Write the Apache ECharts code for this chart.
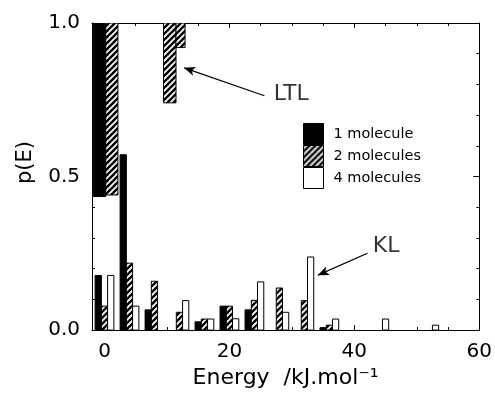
<!DOCTYPE html>
<html>
<head>
<meta charset="utf-8">
<script src="https://cdn.jsdelivr.net/npm/echarts@6/dist/echarts.min.js"></script>
<style>html,body{margin:0;padding:0;background:#fff}#c{width:495px;height:394px}</style>
</head>
<body>
<div id="c"></div>
<script>
// ---- data ----
const energies = [0, 4, 8, 12, 16, 20, 24, 28, 32, 36, 40, 44, 48, 52];
const oneMolecule   = [0.178, 0.571, 0.066, 0, 0.027, 0.078, 0.066, 0, 0, 0.008, 0, 0, 0, 0];
const twoMolecules  = [0.078, 0.218, 0.159, 0.058, 0.036, 0.078, 0.097, 0.137, 0.096, 0.016, 0, 0, 0, 0];
const fourMolecules = [0.178, 0.078, 0, 0.096, 0.036, 0.037, 0.157, 0.058, 0.238, 0.036, 0, 0.036, 0, 0.016];
// off-scale blocks: [E from, E to, p low, p high]
const oneTop = [[-1.8, 0.2, 0.435, 1.0]];
const twoTop = [[0.2, 2.15, 0.44, 1.0], [9.45, 11.45, 0.74, 1.0], [11.45, 12.9, 0.92, 1.0]];
const seriesNames = ['1 molecule', '2 molecules', '4 molecules'];
const xMajor = [0, 20, 40, 60];
const xMinor = [5, 10, 15, 25, 30, 35, 45, 50, 55];
const annotations = [[29.9, 0.768, 'LTL'], [45.1, 0.274, 'KL']];
const arrows = [[[25.6, 0.763], [12.75, 0.854]], [[42.1, 0.25], [34.16, 0.179]]];

// hatch pattern
const pc = document.createElement('canvas');
const S = 6;
pc.width = S; pc.height = S;
const g = pc.getContext('2d');
g.fillStyle = '#fff'; g.fillRect(0, 0, S, S);
g.strokeStyle = '#000'; g.lineWidth = 2.4;
[[0, S, S, 0], [-S, S, S, -S], [0, 2 * S, 2 * S, 0]].forEach(l => { g.beginPath(); g.moveTo(l[0], l[1]); g.lineTo(l[2], l[3]); g.stroke(); });
const hatch = { image: pc, repeat: 'repeat' };

const FONT = 'DejaVu Sans';
const colors = ['#000', hatch, '#fff'];
const offsets = [-1, 0, 1];

function barRender(off, fill) {
  return function (params, api) {
    const e = api.value(0), v = api.value(1);
    if (!v) return null;
    const a = api.coord([e + off - 0.5, v]);
    const b = api.coord([e + off + 0.5, 0]);
    return { type: 'rect', shape: { x: a[0], y: a[1], width: b[0] - a[0], height: b[1] - a[1] },
      style: { fill: fill, stroke: '#000', lineWidth: 1 } };
  };
}
function blockRender(fill) {
  return function (params, api) {
    const a = api.coord([api.value(0), api.value(3)]);
    const b = api.coord([api.value(1), api.value(2)]);
    return { type: 'rect', shape: { x: a[0], y: a[1], width: b[0] - a[0], height: b[1] - a[1] },
      style: { fill: fill, stroke: '#000', lineWidth: 1 } };
  };
}

const values = [oneMolecule, twoMolecules, fourMolecules];
const series = values.map((arr, k) => ({
  type: 'custom', name: seriesNames[k], clip: true, silent: true,
  itemStyle: { color: colors[k], borderColor: '#000', borderWidth: 1 },
  renderItem: barRender(offsets[k], colors[k]),
  encode: { x: 0, y: 1 },
  data: energies.map((e, i) => [e, arr[i]])
}));
series.push({
  type: 'custom', name: seriesNames[0], clip: true, silent: true,
  itemStyle: { color: colors[0] }, renderItem: blockRender(colors[0]),
  encode: { x: [0, 1], y: [2, 3] }, data: oneTop
});
series.push({
  type: 'custom', name: seriesNames[1], clip: true, silent: true,
  itemStyle: { color: colors[1] }, renderItem: blockRender(colors[1]),
  encode: { x: [0, 1], y: [2, 3] }, data: twoTop
});
series.push({
  type: 'scatter', name: 'notes', silent: true, symbolSize: 0,
  label: { show: true, position: 'inside', formatter: p => p.value[2], color: '#000', fontSize: 22, fontFamily: FONT },
  data: annotations,
  markLine: {
    silent: true, symbol: ['none', 'arrow'], symbolSize: [7, 11],
    lineStyle: { color: '#000', width: 1.2, type: 'solid' }, label: { show: false },
    data: arrows.map(a => [{ coord: a[0] }, { coord: a[1] }])
  }
});

const xBase = { type: 'value', min: -2, max: 60, splitLine: { show: false } };
const axLine = { show: true, onZero: false, lineStyle: { color: '#000', width: 1 } };
const noLine = { show: false, onZero: false };
const chart = echarts.init(document.getElementById('c'), null, { renderer: 'canvas' });
chart.setOption({
  animation: false,
  textStyle: { fontFamily: FONT },
  grid: { left: 92, right: 12, top: 23, bottom: 63 },
  legend: {
    data: seriesNames, orient: 'vertical', left: 303, top: 123, padding: 0,
    itemWidth: 20, itemHeight: 21, itemGap: 0, icon: 'rect',
    itemStyle: { borderColor: '#000', borderWidth: 1 },
    textStyle: { fontSize: 14.5, fontFamily: FONT, color: '#000', padding: [0, 0, 0, 5] },
    selectedMode: false
  },
  xAxis: [
    Object.assign({}, xBase, {
      position: 'bottom', axisLine: axLine,
      axisTick: { show: true, inside: true, length: 5, customValues: xMajor, lineStyle: { color: '#000' } },
      axisLabel: { show: true, customValues: xMajor, margin: 12, fontSize: 20, color: '#000', fontFamily: FONT },
      name: 'Energy  /kJ.mol\u207B\u00B9', nameLocation: 'middle', nameGap: 36,
      nameTextStyle: { fontSize: 22, fontFamily: FONT, color: '#000' }
    }),
    Object.assign({}, xBase, {
      position: 'bottom', axisLine: noLine,
      axisTick: { show: true, inside: true, length: 3, customValues: xMinor, lineStyle: { color: '#000' } },
      axisLabel: { show: false }
    }),
    Object.assign({}, xBase, {
      position: 'top', axisLine: axLine,
      axisTick: { show: true, inside: true, length: 5, customValues: xMajor, lineStyle: { color: '#000' } },
      axisLabel: { show: false }
    }),
    Object.assign({}, xBase, {
      position: 'top', axisLine: noLine,
      axisTick: { show: true, inside: true, length: 3, customValues: xMinor, lineStyle: { color: '#000' } },
      axisLabel: { show: false }
    })
  ],
  yAxis: [
    {
      type: 'value', min: 0, max: 1, interval: 0.5, position: 'left',
      splitLine: { show: false }, axisLine: axLine,
      axisTick: { show: true, inside: true, length: 6, lineStyle: { color: '#000' } },
      minorTick: { show: true, splitNumber: 5, length: 3, lineStyle: { color: '#000' } },
      axisLabel: { margin: 12, fontSize: 20, color: '#000', fontFamily: FONT, formatter: v => v.toFixed(1) },
      name: 'p(E)', nameLocation: 'middle', nameGap: 56, nameRotate: 90,
      nameTextStyle: { fontSize: 21, color: '#000', fontFamily: FONT, padding: [0, 0, 0, 28] }
    },
    {
      type: 'value', min: 0, max: 1, interval: 0.5, position: 'right',
      splitLine: { show: false }, axisLine: axLine,
      axisTick: { show: true, inside: true, length: 6, lineStyle: { color: '#000' } },
      minorTick: { show: true, splitNumber: 5, length: 3, lineStyle: { color: '#000' } },
      axisLabel: { show: false }
    }
  ],
  series: series
});
</script>
</body>
</html>
